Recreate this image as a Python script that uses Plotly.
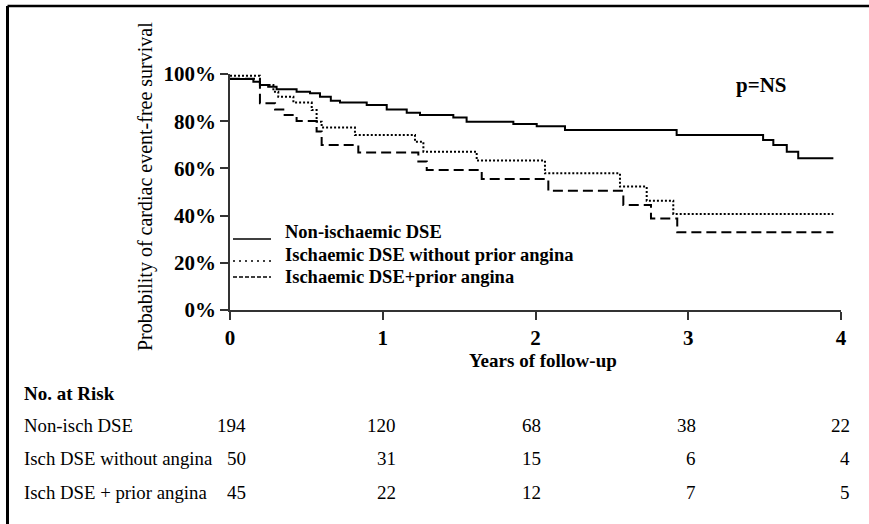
import plotly.graph_objects as go

# ---- data ----
t_non = [0, 0.153, 0.196, 0.25, 0.305, 0.436, 0.524, 0.589, 0.66, 0.72, 0.895, 1.026, 1.157,
         1.244, 1.462, 1.549, 1.855, 2.008, 2.193, 2.924, 3.49, 3.557, 3.645, 3.72, 3.95]
s_non = [97.9, 96.7, 95.3, 94.6, 93.5, 92.5, 91.8, 90.4, 88.7, 87.9, 86.9, 85.0, 83.6,
         82.6, 81.6, 79.8, 78.8, 77.9, 76.3, 74.2, 72.0, 69.9, 67.1, 64.3, 64.3]

t_isch = [0, 0.196, 0.284, 0.316, 0.415, 0.535, 0.567, 0.60, 0.818, 1.211, 1.266, 1.615,
          2.062, 2.553, 2.728, 2.902, 3.95]
s_isch = [99.3, 95.3, 92.5, 90.4, 87.9, 84.7, 79.8, 77.3, 74.2, 71.3, 67.1, 63.3,
          57.9, 52.3, 46.3, 40.7, 40.7]

t_ang = [0, 0.196, 0.295, 0.349, 0.436, 0.567, 0.60, 0.84, 1.233, 1.288, 1.648,
         2.084, 2.575, 2.756, 2.928, 3.95]
s_ang = [98.0, 87.6, 85.0, 82.6, 80.1, 75.6, 69.9, 66.7, 62.9, 59.3, 55.5,
         50.5, 44.5, 38.8, 32.9, 32.9]

series_names = ["Non-ischaemic DSE", "Ischaemic DSE without prior angina", "Ischaemic DSE+prior angina"]
risk_labels = ["Non-isch DSE", "Isch DSE without angina", "Isch DSE + prior angina"]
risk_years = [0, 1, 2, 3, 4]
risk_non = [194, 120, 68, 38, 22]
risk_isch = [50, 31, 15, 6, 4]
risk_ang = [45, 22, 12, 7, 5]

y_ticks = [0, 20, 40, 60, 80, 100]
x_ticks = [0, 1, 2, 3, 4]

FONT = "Liberation Serif"

fig = go.Figure()
fig.add_trace(go.Scatter(x=t_non, y=s_non, mode="lines", line_shape="hv",
                         line=dict(color="black", width=2), name=series_names[0], showlegend=False))
fig.add_trace(go.Scatter(x=t_isch, y=s_isch, mode="lines", line_shape="hv",
                         line=dict(color="black", width=2, dash="2px,2px"), name=series_names[1], showlegend=False))
fig.add_trace(go.Scatter(x=t_ang, y=s_ang, mode="lines", line_shape="hv",
                         line=dict(color="black", width=2, dash="10px,5px"), name=series_names[2], showlegend=False))

W, H = 869, 524
L, R, T, B = 230, 28, 74, 214
pw, ph = W - L - R, H - T - B


def px(xp):
    return (xp - L) / pw


def py(yp):
    return (H - B - yp) / ph


annotations = []
# y-axis title
annotations.append(dict(text="Probability of cardiac event-free survival", x=px(145), y=py(187),
                        xref="paper", yref="paper", textangle=-90, showarrow=False,
                        font=dict(family=FONT, size=20, color="black"), xanchor="center", yanchor="middle"))
# x-axis title
annotations.append(dict(text="<b>Years of follow-up</b>", x=px(543), y=py(360), xref="paper", yref="paper",
                        showarrow=False, font=dict(family=FONT, size=19, color="black"),
                        xanchor="center", yanchor="middle"))
# p value
annotations.append(dict(text="<b>p=NS</b>", x=px(761), y=py(85), xref="paper", yref="paper",
                        showarrow=False, font=dict(family=FONT, size=21, color="black"),
                        xanchor="center", yanchor="middle"))

# legend (manual)
leg_text_y = [232, 255, 277]
leg_line_y = [239, 261, 277]
leg_dash = ["solid", "2px,4px", "4px,2px"]
shapes = []
for name, ty, ly, d in zip(series_names, leg_text_y, leg_line_y, leg_dash):
    annotations.append(dict(text="<b>" + name + "</b>", x=px(283), y=py(ty), xref="paper", yref="paper",
                            showarrow=False, font=dict(family=FONT, size=18.5, color="black"),
                            xanchor="left", yanchor="middle"))
    shapes.append(dict(type="line", xref="paper", yref="paper", x0=px(233), x1=px(271), y0=py(ly), y1=py(ly),
                       line=dict(color="black", width=1.5, dash=d)))

# number at risk table
annotations.append(dict(text="<b>No. at Risk</b>", x=px(22), y=py(393), xref="paper", yref="paper",
                        showarrow=False, font=dict(family=FONT, size=19, color="black"),
                        xanchor="left", yanchor="middle"))
row_y = [425, 458, 492]
col_shift = [18, 15, 7, 10, 11]
for lab, vals, ry in zip(risk_labels, [risk_non, risk_isch, risk_ang], row_y):
    annotations.append(dict(text=lab, x=px(22), y=py(ry), xref="paper", yref="paper",
                            showarrow=False, font=dict(family=FONT, size=18.8, color="black"),
                            xanchor="left", yanchor="middle"))
    for yr, v, sh in zip(risk_years, vals, col_shift):
        annotations.append(dict(text=str(v), x=yr, y=py(ry), xref="x", yref="paper", xshift=sh,
                                showarrow=False, font=dict(family=FONT, size=19, color="black"),
                                xanchor="right", yanchor="middle"))

# outer frame (top and left edges)
shapes.append(dict(type="line", xref="paper", yref="paper", x0=px(7.5), x1=px(872), y0=py(6), y1=py(6),
                   line=dict(color="black", width=2.5)))
shapes.append(dict(type="line", xref="paper", yref="paper", x0=px(7.5), x1=px(7.5), y0=py(6), y1=py(530),
                   line=dict(color="black", width=3)))

axis_common = dict(showline=True, linecolor="#333333", linewidth=1.5, ticks="outside", ticklen=8,
                   tickcolor="#333333", tickwidth=1.5, showgrid=False, zeroline=False,
                   tickfont=dict(family=FONT, size=21, color="black"))

fig.update_layout(
    width=W, height=H,
    margin=dict(l=L, r=R, t=T, b=B),
    paper_bgcolor="white", plot_bgcolor="white",
    xaxis=dict(range=[0, 4], tickvals=x_ticks, ticktext=["<b>%d</b>" % v for v in x_ticks], **axis_common),
    yaxis=dict(range=[0, 100], tickvals=y_ticks, ticktext=["<b>%d%%</b>" % v for v in y_ticks], **axis_common),
    annotations=annotations,
    shapes=shapes,
    showlegend=False,
)
fig.update_traces(cliponaxis=False)

fig.write_html("out.html")
